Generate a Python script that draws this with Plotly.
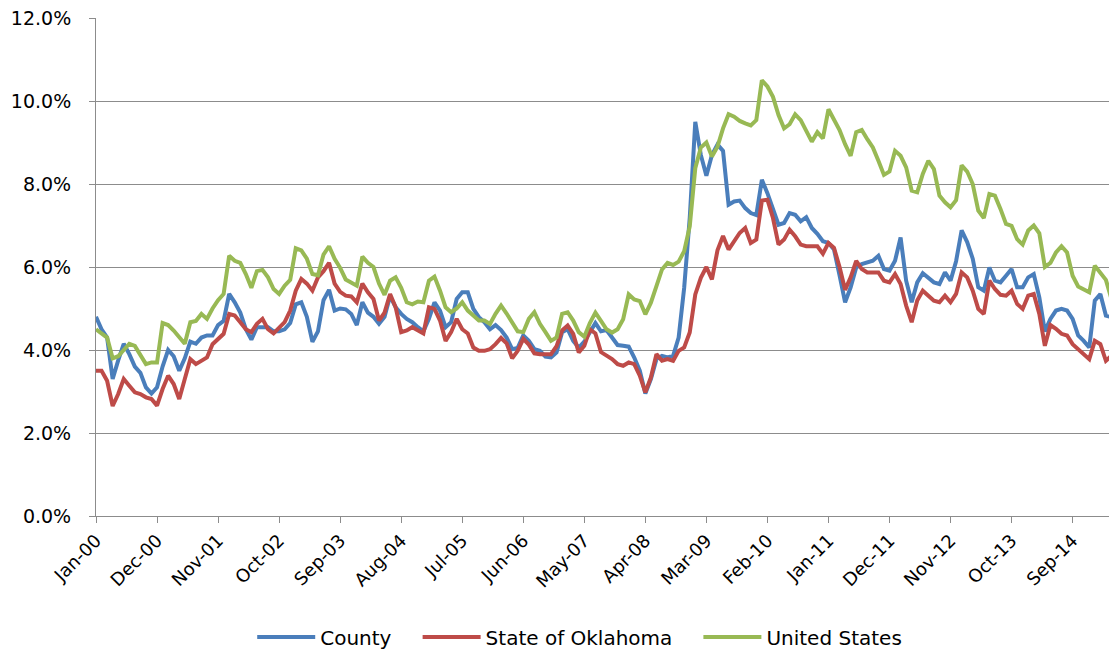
import plotly.graph_objects as go
import pandas as pd

# Monthly categories Jan-00 .. May-15
months = list(pd.date_range("2000-01-01", periods=185, freq="MS").strftime("%b-%y"))
tick_labels = months[::11]

county = [
    4.8, 4.5, 4.3, 3.3, 3.75, 4.15, 3.9, 3.6, 3.45, 3.1,
    2.95, 3.1, 3.6, 4.0, 3.85, 3.5, 3.8, 4.2, 4.15, 4.3,
    4.35, 4.35, 4.6, 4.7, 5.35, 5.15, 4.9, 4.5, 4.25, 4.55,
    4.55, 4.55, 4.45, 4.45, 4.5, 4.65, 5.1, 5.15, 4.8, 4.2,
    4.45, 5.2, 5.45, 4.95, 5.0, 4.98, 4.87, 4.6, 5.15, 4.9,
    4.8, 4.63, 4.8, 5.3, 5.03, 4.87, 4.75, 4.67, 4.55, 4.45,
    4.75, 5.15, 4.95, 4.55, 4.67, 5.23, 5.39, 5.39, 4.99, 4.79,
    4.67, 4.5, 4.6, 4.48, 4.3, 4.02, 4.05, 4.35, 4.22, 4.02,
    3.98, 3.84, 3.82, 3.94, 4.43, 4.5, 4.22, 4.06, 4.2, 4.45,
    4.65, 4.45, 4.48, 4.3, 4.12, 4.1, 4.08, 3.82, 3.5, 2.95,
    3.3, 3.78, 3.86, 3.82, 3.86, 4.3, 5.5, 7.18, 9.5, 8.7,
    8.2, 8.7, 8.95, 8.8, 7.5, 7.58, 7.6, 7.42, 7.3, 7.25,
    8.1, 7.78, 7.42, 7.02, 7.06, 7.3, 7.26, 7.1, 7.2, 6.94,
    6.8, 6.62, 6.58, 6.42, 5.8, 5.15, 5.51, 5.99, 6.07, 6.11,
    6.15, 6.27, 5.95, 5.91, 6.15, 6.71, 5.67, 5.15, 5.63, 5.85,
    5.75, 5.63, 5.59, 5.87, 5.67, 6.14, 6.88, 6.6, 6.2, 5.51,
    5.43, 5.99, 5.67, 5.63, 5.79, 5.95, 5.51, 5.51, 5.75, 5.83,
    5.27, 4.45, 4.75, 4.95, 4.99, 4.95, 4.75, 4.35, 4.22, 4.06,
    5.19, 5.35, 4.83, 4.79, 5.07,
]

oklahoma = [
    3.5, 3.5, 3.26, 2.65, 2.94, 3.3, 3.14, 2.98, 2.94, 2.86,
    2.82, 2.66, 3.06, 3.38, 3.18, 2.82, 3.3, 3.78, 3.66, 3.74,
    3.82, 4.14, 4.25, 4.39, 4.87, 4.83, 4.67, 4.5, 4.43, 4.63,
    4.75, 4.5, 4.4, 4.55, 4.67, 4.95, 5.43, 5.71, 5.6, 5.43,
    5.75, 5.9, 6.1, 5.6, 5.4, 5.31, 5.29, 5.15, 5.6, 5.39,
    5.23, 4.71, 4.9, 5.35, 5.03, 4.43, 4.47, 4.55, 4.47, 4.4,
    5.03, 4.99, 4.71, 4.22, 4.43, 4.75, 4.5, 4.4, 4.06, 3.98,
    3.98, 4.02, 4.14, 4.29, 4.16, 3.8, 3.98, 4.27, 4.13, 3.92,
    3.9, 3.89, 3.9, 4.09, 4.47, 4.59, 4.39, 3.94, 4.1, 4.5,
    4.4, 3.95, 3.86, 3.78, 3.66, 3.62, 3.7, 3.66, 3.38, 2.98,
    3.34, 3.9, 3.74, 3.78, 3.74, 3.98, 4.06, 4.42, 5.34, 5.74,
    6.0, 5.7, 6.4, 6.75, 6.42, 6.62, 6.82, 6.94, 6.58, 6.66,
    7.6, 7.62, 7.18, 6.54, 6.66, 6.9, 6.74, 6.54, 6.5, 6.5,
    6.5, 6.32, 6.58, 6.46, 6.0, 5.45, 5.75, 6.15, 5.95, 5.87,
    5.87, 5.87, 5.67, 5.63, 5.83, 5.59, 5.07, 4.67, 5.19, 5.43,
    5.31, 5.19, 5.15, 5.31, 5.15, 5.35, 5.87, 5.75, 5.43, 4.99,
    4.87, 5.67, 5.47, 5.33, 5.31, 5.43, 5.11, 4.99, 5.31, 5.35,
    4.87, 4.1, 4.6, 4.51, 4.39, 4.35, 4.14, 4.02, 3.9, 3.78,
    4.22, 4.14, 3.74, 3.86, 4.4,
]

united_states = [
    4.5, 4.4, 4.3, 3.8, 3.85, 4.0, 4.15, 4.1, 3.9, 3.66,
    3.7, 3.7, 4.65, 4.6, 4.47, 4.3, 4.15, 4.67, 4.7, 4.87,
    4.75, 5.0, 5.2, 5.35, 6.27, 6.15, 6.1, 5.83, 5.5, 5.9,
    5.93, 5.75, 5.47, 5.35, 5.55, 5.69, 6.45, 6.4, 6.2, 5.83,
    5.8, 6.3, 6.5, 6.2, 5.98, 5.7, 5.63, 5.55, 6.25, 6.1,
    6.0, 5.6, 5.33, 5.67, 5.75, 5.5, 5.15, 5.1, 5.17, 5.15,
    5.67, 5.77, 5.43, 5.03, 4.91, 5.0, 5.15, 4.95, 4.83, 4.71,
    4.71, 4.63, 4.87, 5.07, 4.88, 4.67, 4.45, 4.43, 4.75, 4.91,
    4.63, 4.43, 4.22, 4.3, 4.87, 4.91, 4.71, 4.43, 4.32, 4.65,
    4.9, 4.7, 4.5, 4.42, 4.5, 4.74, 5.34, 5.22, 5.18, 4.86,
    5.14, 5.54, 5.94, 6.1, 6.05, 6.13, 6.38, 6.98, 8.38, 8.88,
    9.0, 8.66, 8.9, 9.34, 9.68, 9.62, 9.52, 9.46, 9.41, 9.54,
    10.5, 10.35, 10.1, 9.66, 9.34, 9.44, 9.68, 9.54, 9.3, 9.02,
    9.25, 9.1, 9.8, 9.55, 9.3, 8.96, 8.68, 9.25, 9.3, 9.08,
    8.88, 8.56, 8.22, 8.3, 8.8, 8.68, 8.4, 7.84, 7.8, 8.24,
    8.56, 8.36, 7.72, 7.56, 7.44, 7.61, 8.45, 8.3, 8.0, 7.36,
    7.18, 7.76, 7.72, 7.4, 7.04, 6.99, 6.67, 6.54, 6.88, 7.0,
    6.81, 6.0, 6.1, 6.35, 6.5, 6.35, 5.79, 5.53, 5.47, 5.39,
    6.03, 5.87, 5.69, 5.23, 5.23,
]

series_names = ["County", "State of Oklahoma", "United States"]
series_colors = ["#4A7EBB", "#BE4B48", "#98B954"]
legend_ids = ["legend", "legend2", "legend3"]
legend_x = [0.153, 0.315, 0.590]

FONT = "DejaVu Sans"
GRID = "#8C8C8C"

fig = go.Figure()
for name, vals, color, lg in zip(series_names, [county, oklahoma, united_states],
                                 series_colors, legend_ids):
    fig.add_trace(go.Scatter(
        x=months, y=vals, mode="lines", name=name,
        line=dict(color=color, width=4), legend=lg,
    ))

legend_common = dict(orientation="h", xanchor="left", y=-0.243, yanchor="middle",
                     font=dict(family=FONT, size=20, color="#000000"), itemwidth=58,
                     bgcolor="rgba(0,0,0,0)", borderwidth=0)

# The page body adds an 8px offset, so the figure is sized to fill the window
fig.update_layout(
    width=1109, height=641,
    margin=dict(l=88, r=0, t=10, b=133, autoexpand=False),
    plot_bgcolor="white", paper_bgcolor="white",
    font=dict(family=FONT, size=19, color="#000000"),
    showlegend=True,
    legend=dict(x=legend_x[0], **legend_common),
    legend2=dict(x=legend_x[1], **legend_common),
    legend3=dict(x=legend_x[2], **legend_common),
)
fig.update_xaxes(
    type="category", range=[0, 184], automargin=False,
    tickmode="array", tickvals=tick_labels, ticktext=tick_labels,
    tickangle=-45, ticks="outside", ticklen=6, tickcolor=GRID, tickwidth=1,
    showline=True, linecolor=GRID, linewidth=1, showgrid=False,
    ticklabeloverflow="allow",
    tickfont=dict(family=FONT, size=18, color="#000000"),
)
fig.update_yaxes(
    range=[0, 12], dtick=2, tick0=0, tickformat=".1f", ticksuffix="%",
    automargin=False, ticklabeloverflow="allow",
    ticks="outside", ticklen=6, tickcolor=GRID, tickwidth=1,
    ticklabelstandoff=14,
    showline=True, linecolor=GRID, linewidth=1, mirror=False,
    showgrid=True, gridcolor=GRID, gridwidth=1, zeroline=False,
    tickfont=dict(family=FONT, size=19, color="#000000"),
)

fig.write_html("out.html")
